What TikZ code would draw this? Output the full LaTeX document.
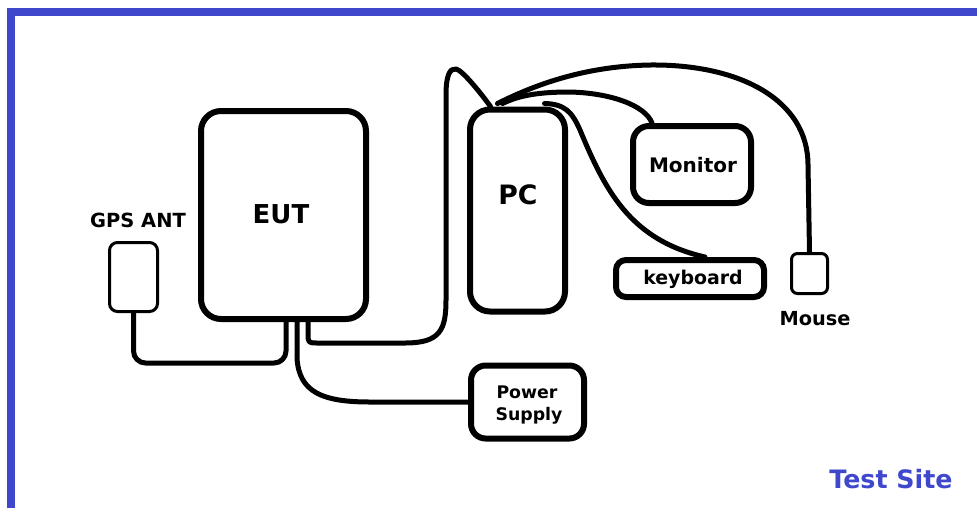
\documentclass[tikz,border=0pt]{standalone}
\usepackage{fontspec}
\setmainfont{DejaVu Sans}
\usetikzlibrary{calc}
\definecolor{paintblue}{RGB}{63,72,204}
\begin{document}
\begin{tikzpicture}[x=0.75pt,y=-0.75pt,
  box/.style={draw, line width=4.5pt, rounded corners=15pt, inner sep=0pt},
  thinbox/.style={draw, line width=2.25pt, rounded corners=5pt, inner sep=0pt},
  cable/.style={draw, line width=3.75pt, line cap=round, line join=round},
  lbl/.style={anchor=base, inner sep=0pt, font=\bfseries\fontsize{#1}{#1}\selectfont}
]
\useasboundingbox (0,0) rectangle (977,508);
% frame
\fill[paintblue] (7,8) rectangle (977,16);
\fill[paintblue] (7,8) rectangle (15,508);

% boxes
\node[box, minimum width=123.75pt, minimum height=156pt] (eut) at (283.5,215) {};
\node[thinbox, rounded corners=6pt, minimum width=36pt, minimum height=51.75pt] (gps) at (133.5,277) {};
\node[box, minimum width=71.25pt, minimum height=151.5pt] (pc) at (517.5,210.5) {};
\node[box, rounded corners=12pt, minimum width=88.5pt, minimum height=57.75pt] (monitor) at (692,164.5) {};
\node[box, rounded corners=7.5pt, minimum width=111pt, minimum height=27.75pt] (keyboard) at (690,278.5) {};
\node[thinbox, rounded corners=4.5pt, minimum width=27pt, minimum height=30pt] (mouse) at (809.5,273.5) {};
\node[box, rounded corners=11pt, minimum width=84.75pt, minimum height=54.75pt] (power) at (527.5,402) {};

% labels
\node[lbl=14.6] (gpslbl) at (138,227) {GPS ANT};
\node[lbl=19.5] (eutlbl) at (281,223) {EUT};
\node[lbl=20] (pclbl) at (518,204) {PC};
\node[lbl=15] (monlbl) at (693,172) {Monitor};
\node[lbl=14.2] (kbdlbl) at (693,284) {keyboard};
\node[lbl=14.5] (mouselbl) at (815,325) {Mouse};
\node[lbl=13] (pwrlbl1) at (527,398) {Power};
\node[lbl=13] (pwrlbl2) at (529,420) {Supply};
\node[lbl=19, text=paintblue] (sitelbl) at (891,488) {Test Site};

% cables
\draw[cable, rounded corners=9pt] (gps.south) |- ($(eut.south)+(2.5,41)$) -- ($(eut.south)+(2.5,0)$);
\draw[cable] ($(eut.south)+(13.5,0)$) -- ++(0,36) .. controls (299,392) and (322,402) .. (370,402) -- (power.west);
\draw[cable] ($(eut.south)+(24.5,0)$) -- (308,333) .. controls (308,343) .. (318,343) -- (405,343)
  .. controls (440,343) and (446,330) .. (446,300) -- (446,95)
  .. controls (446,75) and (450,68) .. (456,69)
  .. controls (462,70) and (480,92) .. ($(pc.north)+(-27,0)$);
\draw[cable] ($(pc.north)+(-20,-3)$) .. controls (540,82) and (590,66) .. (650,65)
  .. controls (740,64) and (808,100) .. (808,165) -- (mouse.north);
\draw[cable] ($(pc.north)+(-15,-3)$) .. controls (520,95) and (540,92) .. (570,92)
  .. controls (610,93) and (645,105) .. ($(monitor.north west)+(22,0)$);
\draw[cable] ($(pc.north)+(27,-3)$) .. controls (565,104) and (572,112) .. (580,130)
  .. controls (605,190) and (630,240) .. ($(keyboard.north)+(15,0)$);
\end{tikzpicture}
\end{document}
